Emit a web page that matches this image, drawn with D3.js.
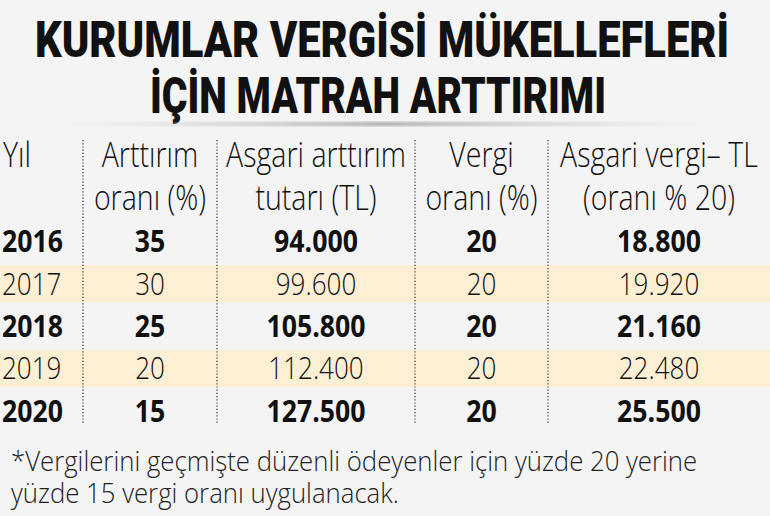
<!DOCTYPE html>
<html>
<head>
<meta charset="utf-8">
<script src="https://cdn.jsdelivr.net/npm/d3@7"></script>
<style>
  body { margin: 0; background: #f4f4f4; }
  svg { display: block; }
</style>
</head>
<body>
<div class="chart"></div>
<script>
(function() {

  // table values
  const years = ['2016', '2017', '2018', '2019', '2020'];
  const arttirimOrani = [35, 30, 25, 20, 15];
  const asgariTutar = [94000, 99600, 105800, 112400, 127500];
  const vergiOrani = [20, 20, 20, 20, 20];
  const asgariVergi = [18800, 19920, 21160, 22480, 25500];

  const titleLines = ['KURUMLAR VERGİSİ MÜKELLEFLERİ', 'İÇİN MATRAH ARTTIRIMI'];
  const headers = [
    ['Yıl'],
    ['Arttırım', 'oranı (%)'],
    ['Asgari arttırım', 'tutarı (TL)'],
    ['Vergi', 'oranı (%)'],
    ['Asgari vergi– TL', '(oranı % 20)']
  ];
  const footnote = [
    '*Vergilerini geçmişte düzenli ödeyenler için yüzde 20 yerine',
    'yüzde 15 vergi oranı uygulanacak.'
  ];

  const width = 770, height = 516;
  const textFont = '"Open Sans", sans-serif';

  // turkish number format: 94.000
  const tr = d3.formatLocale({ decimal: ',', thousands: '.', grouping: [3], currency: ['', ' TL'] });
  const fmt = tr.format(',d');

  let svg = d3.select('.chart').append('svg')
    .attr('width', width)
    .attr('height', height);

  svg.append('rect')
    .attr('width', width)
    .attr('height', height)
    .attr('fill', '#f4f4f4');

  // title
  svg.selectAll('.title')
    .data(titleLines)
    .enter()
    .append('text')
      .attr('class', 'title')
      .attr('x', (d, i) => i === 0 ? 382 : 378)
      .attr('y', (d, i) => i === 0 ? 57 : 113)
      .attr('text-anchor', 'middle')
      .attr('textLength', (d, i) => i === 0 ? 694 : 456)
      .attr('lengthAdjust', 'spacingAndGlyphs')
      .style('font-family', 'Roboto, sans-serif')
      .style('font-weight', 900)
      .style('font-size', '50px')
      .attr('fill', '#111')
      .text(d => d);

  // soft shadow line under the title
  let defs = svg.append('defs');
  let grad = defs.append('linearGradient').attr('id', 'shade');
  grad.append('stop').attr('offset', '0%').attr('stop-color', '#bbb').attr('stop-opacity', 0);
  grad.append('stop').attr('offset', '50%').attr('stop-color', '#999').attr('stop-opacity', 0.8);
  grad.append('stop').attr('offset', '100%').attr('stop-color', '#bbb').attr('stop-opacity', 0);
  defs.append('filter').attr('id', 'blur')
    .append('feGaussianBlur').attr('stdDeviation', 1.5);
  svg.append('rect')
    .attr('x', 60).attr('y', 122)
    .attr('width', 650).attr('height', 4)
    .attr('fill', 'url(#shade)')
    .attr('filter', 'url(#blur)');

  // column layout
  const colEdges = [0, 83, 217, 415, 548, 770];
  let colCenter = i => (colEdges[i] + colEdges[i + 1]) / 2;

  let y = d3.scaleBand()
    .domain(years)
    .range([220, 432]);

  // stripes for odd rows
  svg.selectAll('.stripe')
    .data(years.filter((d, i) => i % 2 === 1))
    .enter()
    .append('rect')
      .attr('class', 'stripe')
      .attr('x', 0)
      .attr('y', d => y(d) + y.bandwidth() / 2 - 18.5)
      .attr('width', width)
      .attr('height', 37)
      .attr('fill', '#fdefd3');

  // dotted separators
  svg.selectAll('.sep')
    .data(colEdges.slice(1, 5))
    .enter()
    .append('line')
      .attr('class', 'sep')
      .attr('x1', d => d).attr('x2', d => d)
      .attr('y1', 140).attr('y2', 424)
      .attr('stroke', '#333')
      .attr('stroke-width', 1.2)
      .attr('stroke-dasharray', '1.2,2');

  // header
  headers.forEach((lines, c) => {
    svg.selectAll('.head' + c)
      .data(lines)
      .enter()
      .append('text')
        .attr('transform', (d, i) => {
          let x = c === 0 ? 3 : colCenter(c);
          return 'translate(' + x + ',' + (167 + i * 43) + ') scale(0.84,1)';
        })
        .attr('text-anchor', c === 0 ? 'start' : 'middle')
        .style('font-family', textFont)
        .style('font-weight', 300)
        .style('font-size', '34px')
        .attr('fill', '#111')
        .text(d => d);
  });

  // body
  let rows = years.map((yr, i) => [yr, arttirimOrani[i], fmt(asgariTutar[i]), vergiOrani[i], fmt(asgariVergi[i])]);

  rows.forEach((row, r) => {
    let bold = r % 2 === 0;
    svg.selectAll('.cell' + r)
      .data(row)
      .enter()
      .append('text')
        .attr('transform', (d, c) => {
          let x = c === 0 ? 2 : colCenter(c);
          return 'translate(' + x + ',' + (y(years[r]) + y.bandwidth() / 2 + 11) + ') scale(' + (bold ? 0.86 : 0.84) + ',1)';
        })
        .attr('text-anchor', (d, c) => c === 0 ? 'start' : 'middle')
        .style('font-family', textFont)
        .style('font-weight', bold ? 700 : 300)
        .style('font-size', '31px')
        .attr('fill', '#111')
        .text(d => d);
  });

  // footnote
  svg.selectAll('.note')
    .data(footnote)
    .enter()
    .append('text')
      .attr('class', 'note')
      .attr('transform', (d, i) => 'translate(11,' + (471 + i * 32) + ') scale(0.92,1)')
      .style('font-family', textFont)
      .style('font-weight', 300)
      .style('font-size', '28px')
      .attr('fill', '#222')
      .text(d => d);

})();
</script>
</body>
</html>
